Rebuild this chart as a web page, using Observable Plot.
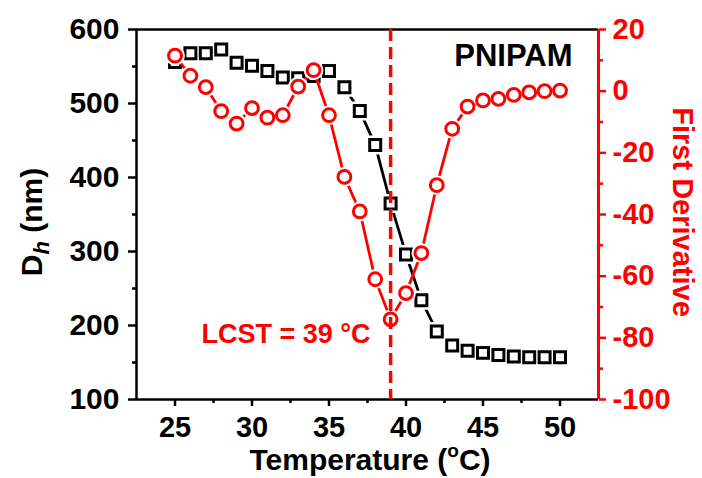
<!DOCTYPE html>
<html>
<head>
<meta charset="utf-8">
<script src="https://cdn.jsdelivr.net/npm/d3@7"></script>
<script src="https://cdn.jsdelivr.net/npm/@observablehq/plot@0.6"></script>
<style>
  html, body { margin: 0; padding: 0; background: #fff; }
  #chart { width: 702px; height: 478px; overflow: hidden; }
</style>
</head>
<body>
<div id="chart"></div>
<script>
// Temperature (°C)
const temperature = [25, 26, 27, 28, 29, 30, 31, 32, 33, 34, 35, 36, 37, 38, 39, 40, 41, 42, 43, 44, 45, 46, 47, 48, 49, 50];
// Hydrodynamic diameter Dh (nm), left axis
const diameter = [556, 568, 568, 573, 555, 551, 544, 535, 534, 537, 544, 522, 490, 444, 365, 296, 234, 192, 173, 166, 163, 160, 158, 157, 157, 157];
// First derivative, right axis
const derivative = [11.5, 5, 1.3, -6.5, -10.5, -5.5, -8.6, -7.8, 1.5, 6.8, -7.8, -27.8, -39, -61, -74, -65.5, -52.5, -30.5, -12.2, -5, -3, -2.5, -1.2, -0.4, 0, 0.2];

const xTicks = [25, 30, 35, 40, 45, 50];
const xMinorTicks = [27.5, 32.5, 37.5, 42.5, 47.5];
const leftTicks = [100, 200, 300, 400, 500, 600];
const leftMinorTicks = [150, 250, 350, 450, 550];
const rightTicks = [-100, -80, -60, -40, -20, 0, 20];
const rightMinorTicks = [-90, -70, -50, -30, -10, 10];
const lcst = [39];
const sampleLabel = ["PNIPAM"];

const xDomain = [22.5, 52.5];
const leftDomain = [100, 600];
const rightDomain = [-100, 20];

// map right-axis values onto the left scale
const toLeft = d3.scaleLinear().domain(rightDomain).range(leftDomain);

const black = "#000000";
const red = "#ff0000";

const dh = temperature.map((t, i) => ({t, v: diameter[i]}));
const der = temperature.map((t, i) => ({t, v: toLeft(derivative[i])}));

const font = "'Liberation Sans', Arial, Helvetica, sans-serif";
const fs = 29;      // tick labels
const fsTitle = 30; // axis titles / sample label
const fsNote = 27;  // LCST label

const plot = Plot.plot({
  width: 702,
  height: 478,
  marginLeft: 136,
  marginRight: 104,
  marginTop: 29,
  marginBottom: 79,
  x: {domain: xDomain, label: null},
  y: {domain: leftDomain, label: null},
  style: {fontFamily: font, fontWeight: "bold", fontSize: fs + "px", background: "#fff", overflow: "visible"},
  marks: [
    // frame
    Plot.ruleY([leftDomain[1]], {stroke: black, strokeWidth: 2.5}),
    Plot.ruleY([leftDomain[0]], {stroke: black, strokeWidth: 2.5}),
    Plot.ruleX([xDomain[0]], {stroke: black, strokeWidth: 2.5}),
    // axes
    Plot.axisX(xTicks, {tickSize: 7, tickPadding: 10, strokeWidth: 2.5, fontSize: fs, fill: black, label: null}),
    Plot.axisX(xMinorTicks, {tickSize: 4, strokeWidth: 2.5, tickFormat: () => "", label: null}),
    Plot.axisY(leftTicks, {anchor: "left", tickSize: 8, tickPadding: 9, strokeWidth: 2.5, fontSize: fs + 1, fill: black, label: null}),
    Plot.axisY(leftMinorTicks, {anchor: "left", tickSize: 4, strokeWidth: 2.5, tickFormat: () => "", label: null}),
    Plot.axisY(rightTicks.map(toLeft), {anchor: "right", tickSize: 7, tickPadding: 7, strokeWidth: 2.5, stroke: red, fill: red, fontSize: fs, label: null,
      tickFormat: d => String(Math.round(toLeft.invert(d)))}),
    Plot.axisY(rightMinorTicks.map(toLeft), {anchor: "right", tickSize: 4, strokeWidth: 2.5, stroke: red, tickFormat: () => "", label: null}),
    Plot.ruleX([xDomain[1]], {stroke: red, strokeWidth: 3}),
    // Dh series
    Plot.line(dh, {x: "t", y: "v", stroke: black, strokeWidth: 2.8}),
    Plot.dot(dh, {x: "t", y: "v", symbol: "square", r: 6.2, stroke: "#fff", strokeWidth: 8, fill: "#fff"}),
    Plot.dot(dh, {x: "t", y: "v", symbol: "square", r: 6.2, stroke: black, strokeWidth: 3, fill: "#fff"}),
    // derivative series
    Plot.line(der, {x: "t", y: "v", stroke: red, strokeWidth: 2.8}),
    Plot.dot(der, {x: "t", y: "v", symbol: "circle", r: 6.4, stroke: "#fff", strokeWidth: 7, fill: "#fff"}),
    Plot.dot(der, {x: "t", y: "v", symbol: "circle", r: 6.4, stroke: red, strokeWidth: 3, fill: "#fff"}),
    // LCST marker
    Plot.ruleX(lcst, {stroke: red, strokeWidth: 3.5, strokeDasharray: "12,6"}),
    Plot.text(lcst, {x: d => d, frameAnchor: "bottom", dy: -57, dx: -20, textAnchor: "end", text: d => `LCST = ${d} °C`, fill: red, fontSize: fsNote, fontWeight: "bold"}),
    Plot.text(sampleLabel, {text: d => d, frameAnchor: "top-right", dx: -26, dy: 14, lineAnchor: "top", textAnchor: "end", fill: black, fontSize: fsTitle + 1, fontWeight: "bold"})
  ]
});

document.getElementById("chart").appendChild(plot);

// axis titles with sub/superscripts
const svg = d3.select(plot);
const gt = svg.append("g").attr("font-family", font).attr("font-weight", "bold").attr("font-size", fsTitle);

const yl = gt.append("text").attr("transform", "translate(42,222) rotate(-90)").attr("text-anchor", "middle").attr("fill", black);
yl.append("tspan").text("D");
yl.append("tspan").attr("font-style", "italic").attr("font-size", 22).attr("dy", 7).text("h");
yl.append("tspan").attr("dy", -7).text(" (nm)");

const yr = gt.append("text").attr("transform", "translate(673,212) rotate(90)").attr("text-anchor", "middle").attr("fill", red).attr("font-size", 29);
yr.text("First Derivative");

const xl = gt.append("text").attr("x", 370).attr("y", 470).attr("text-anchor", "middle").attr("fill", black);
xl.append("tspan").text("Temperature (");
xl.append("tspan").attr("font-size", 19).attr("dy", -13).text("o");
xl.append("tspan").attr("dy", 13).text("C)");
</script>
</body>
</html>
